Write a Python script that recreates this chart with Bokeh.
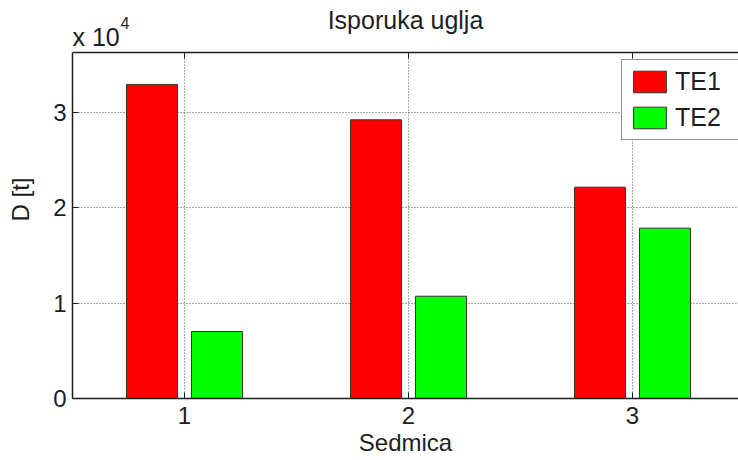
from bokeh.plotting import figure
from bokeh.models import ColumnDataSource, Legend, LegendItem, FixedTicker, Range1d, Label
from bokeh.embed import file_html
from bokeh.resources import INLINE

# Weekly coal deliveries (tonnes) to the two thermal plants
weeks = [1, 2, 3]
te1 = [32950, 29240, 22170]
te2 = [7030, 10730, 17870]
series_names = ["TE1", "TE2"]
y_ticks = [0, 10000, 20000, 30000]

FONT = "Liberation Sans"
INK = "#1e1e1e"
GRID = "#555555"
offset = 0.145
bar_w = 0.228

# Canvas geometry: the drawing area runs to the top edge so the header texts
# can live inside it; the axes box itself stops at y_top.
W, H = 738, 460
left_px, bottom_px = 72, 62
box_top_px = 52
frame_w = W - left_px
frame_h = H - bottom_px
x_start, x_end = 0.5, 0.5 + frame_w / 224
y_top = 36300
y_end = y_top * frame_h / (frame_h - box_top_px)
xpx = (x_end - x_start) / frame_w    # data units per pixel
ypx = y_end / frame_h

src = ColumnDataSource(dict(
    x1=[w - offset for w in weeks],
    x2=[w + offset for w in weeks],
    te1=te1,
    te2=te2,
))

p = figure(width=W, height=H, output_backend="svg", toolbar_location=None,
           x_range=Range1d(x_start, x_end), y_range=Range1d(0, y_end),
           min_border_left=left_px, min_border_right=0, min_border_top=0,
           min_border_bottom=bottom_px)
p.title = None
p.background_fill_color = "white"
p.border_fill_color = "white"
p.outline_line_color = None

# Dotted grid: horizontal lines from the grid, vertical ones drawn up to the box top
p.ygrid.grid_line_color = GRID
p.ygrid.grid_line_dash = "1 2"
p.xgrid.visible = False
p.segment(x0=weeks, y0=[0] * len(weeks), x1=weeks, y1=[y_top] * len(weeks),
          line_color=GRID, line_width=1, line_dash="1 2")

r1 = p.vbar(x="x1", top="te1", width=bar_w, source=src,
            fill_color="#ff0000", line_color="#333333", line_width=1)
r2 = p.vbar(x="x2", top="te2", width=bar_w, source=src,
            fill_color="#00ff00", line_color="#333333", line_width=1)

# Top edge of the axes box with its inward ticks
p.segment(x0=[x_start], y0=[y_top], x1=[x_end], y1=[y_top], line_color=INK, line_width=1.5)
p.segment(x0=weeks, y0=[y_top] * len(weeks), x1=weeks, y1=[y_top - 6 * ypx] * len(weeks),
          line_color=INK, line_width=1)

# Axes
p.xaxis.ticker = FixedTicker(ticks=weeks)
p.yaxis.ticker = FixedTicker(ticks=y_ticks)
p.yaxis.bounds = (0, y_top)
p.yaxis.major_label_overrides = {t: str(t // 10000) for t in y_ticks}
for ax in (p.xaxis[0], p.yaxis[0]):
    ax.axis_line_color = INK
    ax.axis_line_width = 1.5
    ax.major_tick_in = 6
    ax.major_tick_out = 0
    ax.major_tick_line_color = INK
    ax.minor_tick_line_color = None
    ax.major_label_text_font = FONT
    ax.major_label_text_font_size = "24px"
    ax.major_label_text_color = INK
    ax.axis_label_text_font = FONT
    ax.axis_label_text_font_size = "24px"
    ax.axis_label_text_font_style = "normal"
    ax.axis_label_text_color = INK
p.xaxis.axis_label = "Sedmica"
p.yaxis.axis_label = "D [t]"
p.xaxis.major_label_standoff = 8
p.xaxis.axis_label_standoff = 2
p.yaxis.major_label_standoff = 6
p.yaxis.axis_label_standoff = 16
p.yaxis.axis_label_text_align = "right"
p.yaxis.major_label_orientation = "horizontal"

# Header: chart title and the y scale factor
def text(x, y, s, size, align="left"):
    p.add_layout(Label(x=x, y=y, text=s, text_font=FONT, text_font_size=size,
                       text_color=INK, text_align=align, text_baseline="alphabetic"))

text((x_start + x_end) / 2, y_top + 33 * ypx, "Isporuka uglja", "25px", "center")
text(x_start, y_top + 16 * ypx, "x 10", "25px")
text(x_start + 48 * xpx, y_top + 30 * ypx, "4", "16px")

legend = Legend(items=[LegendItem(label=series_names[0], renderers=[r1]),
                       LegendItem(label=series_names[1], renderers=[r2])],
                location=(549, 258))
legend.label_text_font = FONT
legend.label_text_font_size = "25px"
legend.label_text_color = INK
legend.label_width = 58
legend.glyph_width = 41
legend.glyph_height = 27
legend.label_standoff = 5
legend.spacing = 7
legend.padding = 7
legend.margin = 0
legend.border_line_color = INK
legend.border_line_width = 1
legend.background_fill_alpha = 1
p.add_layout(legend, "center")

open("out.html", "w").write(file_html(p, INLINE))
